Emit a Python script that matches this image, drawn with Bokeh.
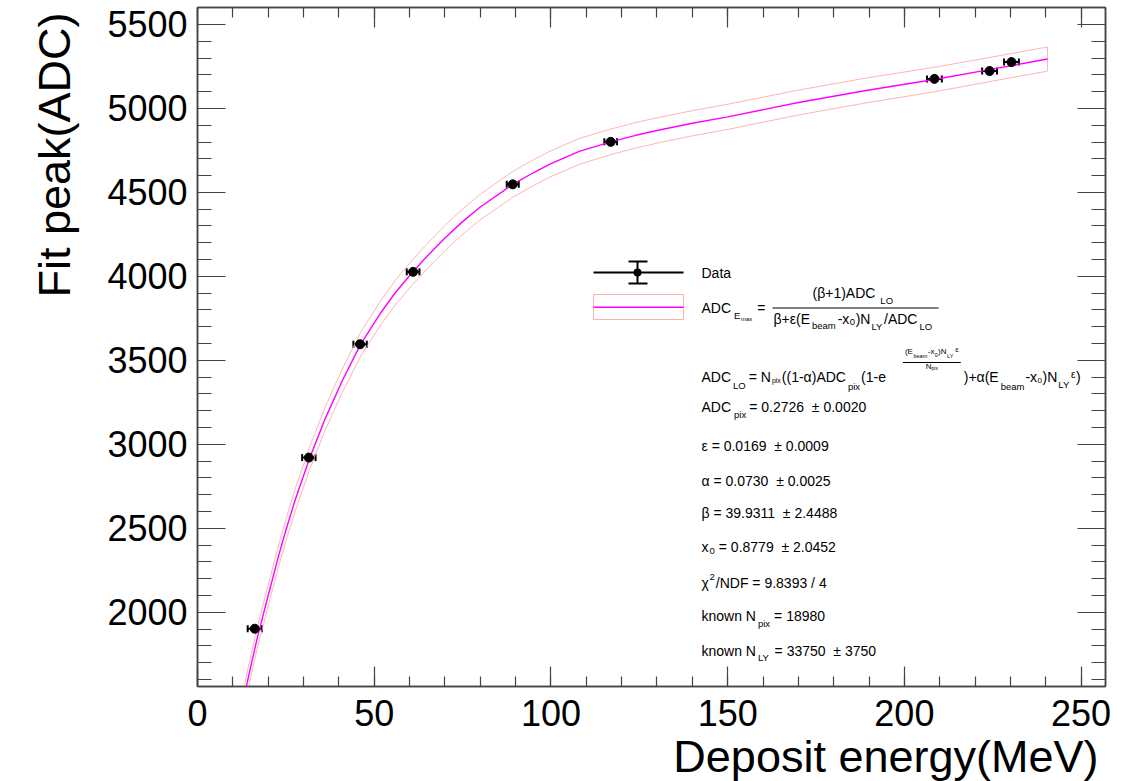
from bokeh.plotting import figure
from bokeh.models import (Range1d, LinearAxis, SingleIntervalTicker, Label, BoxAnnotation,
                          Whisker, TeeHead, ColumnDataSource, Title)
from bokeh.embed import file_html
from bokeh.resources import INLINE

# ---------------- data ----------------
energy = [16.2, 31.5, 46.0, 61.0, 89.2, 116.9, 208.5, 224.1, 230.3]
peak = [1902, 2921, 3596, 4027, 4548, 4801, 5176, 5223, 5276]
energy_err = [2.0, 1.9, 1.9, 1.8, 1.7, 1.8, 2.1, 2.1, 2.1]

fit_energy = [12.5, 13.8, 15, 17, 20, 23, 25, 27.7, 31.8, 36, 41, 46.1, 52, 56, 60.9, 65, 70,
              75, 80, 89.2, 95, 100, 108, 116.9, 124, 131, 140, 150, 170, 190, 208.5, 224, 240.5]
fit_peak = [1423, 1556, 1670, 1855, 2100, 2340, 2488, 2673, 2921, 3147, 3380, 3594, 3788, 3904,
            4026, 4121, 4228, 4326, 4413, 4548, 4617, 4671, 4744, 4801, 4840, 4873, 4912, 4950,
            5035, 5110, 5172, 5231, 5294]
band_upper = [1485, 1618, 1732, 1917, 2163, 2404, 2553, 2739, 2988, 3215, 3450, 3665, 3860, 3977,
              4100, 4195, 4303, 4401, 4489, 4625, 4694, 4748, 4821, 4877, 4916, 4948, 4987, 5025,
              5109, 5184, 5245, 5303, 5366]
band_lower = [1361, 1494, 1608, 1793, 2037, 2276, 2423, 2607, 2854, 3079, 3310, 3523, 3716, 3831,
              3952, 4047, 4153, 4251, 4337, 4471, 4540, 4594, 4667, 4725, 4764, 4798, 4837, 4875,
              4961, 5036, 5099, 5159, 5222]

x_title = "Deposit energy(MeV)"
y_title = "Fit peak(ADC)"

# ---------------- layout ----------------
W, H = 1137, 781
FL, FR, FT, FB = 197, 1105, 7, 687
FONT = "Liberation Sans"
AX = "#444444"

p = figure(width=W, height=H, output_backend="svg", toolbar_location=None,
           x_range=Range1d(0, 256.9), y_range=Range1d(1558, 5601),
           min_border_left=FL, min_border_right=W - FR, min_border_top=FT,
           min_border_bottom=H - FB, x_axis_type=None, y_axis_type=None)
p.title = None
p.background_fill_color = "white"
p.border_fill_color = "white"
p.outline_line_color = AX
p.outline_line_width = 1.5


def make_axis(interval, labels, maj_len, min_len, standoff):
    ax = LinearAxis(ticker=SingleIntervalTicker(interval=interval, num_minor_ticks=5))
    ax.axis_line_color = AX
    ax.axis_line_width = 1.5
    ax.major_tick_in = maj_len
    ax.major_tick_out = 0
    ax.minor_tick_in = min_len
    ax.minor_tick_out = 0
    ax.major_tick_line_color = AX
    ax.minor_tick_line_color = AX
    ax.major_tick_line_width = 1.2
    ax.minor_tick_line_width = 1.2
    ax.major_label_text_font = FONT
    ax.major_label_standoff = standoff
    if labels:
        ax.major_label_text_font_size = "36px"
        ax.major_label_text_color = "black"
    else:
        ax.major_label_text_font_size = "0px"
        ax.major_label_text_alpha = 0
    return ax


p.add_layout(make_axis(50, True, 20, 10, 13), "below")
p.add_layout(make_axis(50, False, 20, 10, 0), "above")
p.add_layout(make_axis(500, True, 28, 14, 10), "left")
p.add_layout(make_axis(500, False, 28, 14, 0), "right")

# axis titles as side-panel titles aligned to the axis end (as ROOT does)
p.add_layout(Title(text=x_title, align="right", offset=7, standoff=0,
                   text_font=FONT, text_font_size="45px", text_font_style="normal",
                   text_color="black"), "below")
p.add_layout(Title(text=y_title, align="right", offset=5, standoff=50,
                   text_font=FONT, text_font_size="45px", text_font_style="normal",
                   text_color="black"), "left")

# ---------------- band, fit, data ----------------
p.patch(fit_energy + fit_energy[::-1], band_upper + band_lower[::-1],
        fill_alpha=0, line_color="#ff9c9c", line_width=1, line_alpha=0.75)
p.line(fit_energy, fit_peak, line_color="#ff00ff", line_width=1.4)

src = ColumnDataSource(dict(
    x=energy, y=peak,
    xl=[e - d for e, d in zip(energy, energy_err)],
    xu=[e + d for e, d in zip(energy, energy_err)]))
p.add_layout(Whisker(source=src, base="y", lower="xl", upper="xu", dimension="width",
                     line_color="black", line_width=2,
                     lower_head=TeeHead(size=7, line_width=2, line_color="black"),
                     upper_head=TeeHead(size=7, line_width=2, line_color="black")))
p.scatter("x", "y", source=src, size=9, fill_color="black", line_color="black")

# ---------------- annotations (canvas pixel helpers) ----------------
CW = {'A': .667, 'D': .722, 'C': .722, 'L': .556, 'O': .778, 'N': .722, 'E': .667, 'Y': .667,
      'F': .611, ' ': .278, '\u00a0': .278, '=': .584, '(': .333, ')': .333, '+': .584,
      '-': .333, '/': .278, '.': .278, '±': .584, 'a': .556, 'b': .556, 'e': .556, 'm': .833,
      'p': .556, 'i': .222, 'x': .5, 'k': .5, 'n': .556, 'o': .556, 'w': .722, 't': .278,
      'α': .578, 'β': .573, 'ε': .446, 'χ': .5}


def tw(s, size):
    return sum(CW.get(c, 0.556) for c in s) * size


def T(s, x, cy, size=14.0, align="left"):
    base = cy - 0.07 * size
    p.add_layout(Label(x=x - FL, y=FB - base, x_units="screen", y_units="screen", text=s,
                       text_font=FONT, text_font_size=f"{size}px", text_color="black",
                       text_align=align, text_baseline="alphabetic"))


def row(x, segs):
    for s, size, cy, gap in segs:
        x += gap
        T(s, x, cy, size)
        x += tw(s, size)
    return x


def B(x0, y0, x1, y1, color, fill=True, lw=1.0, radius=0):
    kw = dict(left=x0 - FL, right=x1 - FL, top=FB - y0, bottom=FB - y1,
              left_units="screen", right_units="screen", top_units="screen",
              bottom_units="screen")
    if fill:
        kw.update(fill_color=color, fill_alpha=1.0, line_alpha=0)
    else:
        kw.update(fill_alpha=0, line_color=color, line_width=lw, line_alpha=1.0)
    if radius:
        kw["border_radius"] = radius
    p.add_layout(BoxAnnotation(**kw))


# legend symbols
B(593, 272, 683, 274, "black")
B(636, 262, 638, 284, "black")
B(628, 261, 647, 263, "black")
B(628, 283, 647, 285, "black")
B(633, 269, 641, 277, "black", radius=4)
B(593, 295, 683, 320, "#ffb0b0", fill=False, lw=1)
B(593, 307, 683, 308.5, "#ff00ff")

# legend texts
T("Data", 701, 274)

row(701, [("ADC", 14, 309, 0), ("E", 9.5, 317, 3), ("max", 6, 320, 0.5), ("=", 14, 309, 5)])
B(772, 308, 938, 309, "black")
row(812, [("(β+1)ADC", 14, 294, 0), ("LO", 9.5, 302, 5)])
row(773, [("β+ε(E", 14, 320, 0), ("beam", 9.5, 327, 2), ("-x", 14, 320, 2), ("0", 9.5, 323, 0.5),
          (")N", 14, 320, 0.5), ("LY", 9.5, 328, 1), ("/ADC", 14, 320, 1), ("LO", 9.5, 328, 2)])

# ADC_LO formula
xe = row(701, [("ADC", 14, 378, 0), ("LO", 9.5, 387, 2), ("= N", 14, 378, 3), ("pix", 7, 381, 1),
               ("((1-α)ADC", 14, 378, 1), ("pix", 9.5, 388, 2), ("(1-e", 14, 378, 1)])
ex0 = xe + 19
ex1 = row(ex0, [("(E", 8, 353, 0), ("beam", 5.5, 357, 0.5), ("-x", 8, 353, 0.5),
                ("0", 5.5, 356, 0.3), (")N", 8, 353, 0.3), ("LY", 5.5, 357, 0.5),
                ("ε", 8, 351, 1.5)])
B(ex0 - 2, 362.5, ex1 + 2, 363.5, "black")
dw = tw("N", 8) + tw("pix", 5)
row((ex0 + ex1) / 2 - dw / 2, [("N", 8, 368, 0), ("pix", 5, 369, 0)])
row(ex1 + 5, [(")+α(E", 14, 378, 0), ("beam", 9.5, 388, 2), ("-x", 14, 378, 1), ("0", 8, 382, 0.5),
              (")N", 14, 378, 0.5), ("LY", 9.5, 386, 1), ("ε", 10, 376, 1), (")", 14, 378, 0.5)])

# parameters
row(701, [("ADC", 14, 408, 0), ("pix", 9.5, 416, 3), ("= 0.2726\u00a0 ± 0.0020", 14, 408, 3)])
T("ε = 0.0169\u00a0 ± 0.0009", 701, 447)
T("α = 0.0730\u00a0 ± 0.0025", 701, 482)
T("β = 39.9311\u00a0 ± 2.4488", 701, 514)
row(701, [("x", 14, 548, 0), ("0", 9.5, 552, 1), ("= 0.8779\u00a0 ± 2.0452", 14, 548, 4)])
row(701, [("χ", 14, 584, 0), ("2", 9.5, 578, 1), ("/NDF = 9.8393 / 4", 14, 584, 1)])
row(701, [("known N", 14, 617, 0), ("pix", 9.5, 625, 2), ("= 18980", 14, 617, 4)])
row(701, [("known N", 14, 652, 0), ("LY", 9.5, 659, 2), ("= 33750\u00a0 ± 3750", 14, 652, 5)])

open("out.html", "w").write(file_html(p, INLINE))
